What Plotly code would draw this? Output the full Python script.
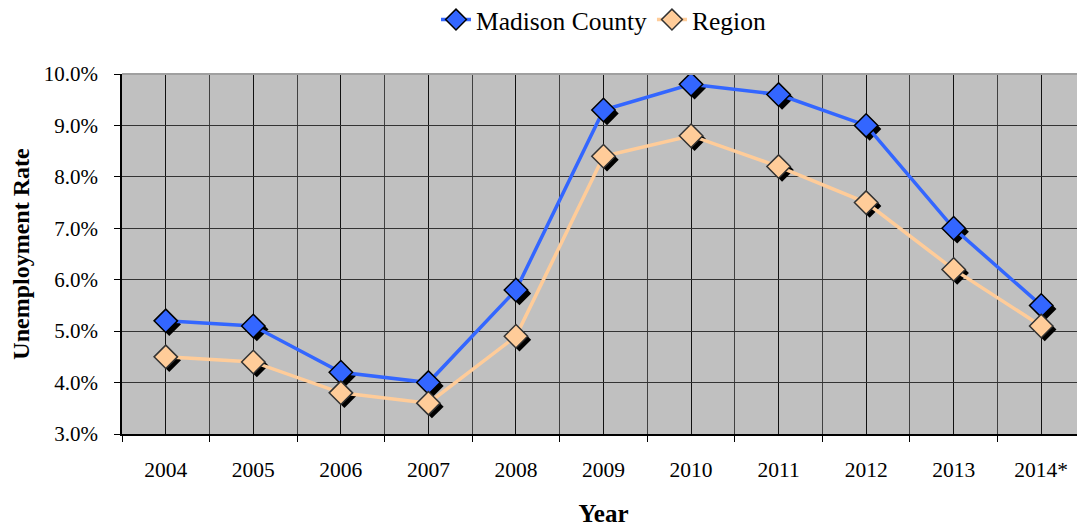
import plotly.graph_objects as go

years = ['2004', '2005', '2006', '2007', '2008', '2009', '2010', '2011', '2012', '2013', '2014*']
madison = [5.2, 5.1, 4.2, 4.0, 5.8, 9.3, 9.8, 9.6, 9.0, 7.0, 5.5]
region = [4.5, 4.4, 3.8, 3.6, 4.9, 8.4, 8.8, 8.2, 7.5, 6.2, 5.1]

xpos = list(range(len(years)))
serif = 'Times New Roman, Liberation Serif, DejaVu Serif, serif'

# plot area in pixels: 963 wide, 360 tall -> shadow offset of ~3.5px
dx = 3.5 / 87.5
dy = 3.5 / (360 / 7)

fig = go.Figure()

# invisible trace so the base axes (grid, ticks, labels) get drawn
fig.add_trace(go.Scatter(x=xpos, y=madison, mode='lines', line=dict(width=0),
                         showlegend=False, hoverinfo='skip'))

# marker shadows on a slightly shifted hidden axis pair
for vals in (madison, region):
    fig.add_trace(go.Scatter(
        x=xpos, y=vals, mode='markers', xaxis='x2', yaxis='y2',
        marker=dict(symbol='diamond', size=18, color='black'),
        showlegend=False, hoverinfo='skip'
    ))

fig.add_trace(go.Scatter(
    x=xpos, y=madison, mode='lines+markers', name='Madison County',
    xaxis='x3', yaxis='y3',
    line=dict(color='#3366FF', width=3.5),
    marker=dict(symbol='diamond', size=18, color='#3366FF',
                line=dict(color='black', width=1.5))
))
fig.add_trace(go.Scatter(
    x=xpos, y=region, mode='lines+markers', name='Region',
    xaxis='x3', yaxis='y3',
    line=dict(color='#FFCC99', width=3.5),
    marker=dict(symbol='diamond', size=18, color='#FFCC99',
                line=dict(color='#333333', width=1.5))
))

xr = [-0.5, 10.5]
yr = [3, 10]

# page body has an 8px margin, so the figure is shrunk to land on the same pixels
fig.update_layout(
    width=1077, height=519,
    margin=dict(l=114, r=0, t=66, b=93, autoexpand=False),
    paper_bgcolor='white',
    plot_bgcolor='#C0C0C0',
    font=dict(family=serif, color='black', size=21),
    showlegend=True,
    legend=dict(orientation='h', x=0.5, xanchor='center', y=1.15, yanchor='middle',
                font=dict(family=serif, size=25.5), bgcolor='rgba(0,0,0,0)'),
    xaxis=dict(
        range=xr, tickvals=xpos, ticktext=years, ticks='',
        showgrid=True, gridcolor='#111111', gridwidth=1,
        showline=True, linecolor='black', linewidth=2,
        ticklabelstandoff=15, tickfont=dict(family=serif, size=21.5),
        zeroline=False,
        minor=dict(tickvals=[i - 0.5 for i in range(len(years) + 1)],
                   ticks='outside', ticklen=6, tickcolor='black',
                   showgrid=True, gridcolor='#404040', gridwidth=1),
        title=dict(text='<b>Year</b>', font=dict(family=serif, size=25), standoff=35),
    ),
    yaxis=dict(
        range=yr, dtick=1, tickformat='.1f', ticksuffix='%',
        ticks='outside', ticklen=6, tickcolor='black',
        showgrid=True, gridcolor='#333333', gridwidth=1,
        showline=True, linecolor='black', linewidth=1.5,
        zeroline=False, ticklabelstandoff=12,
        tickfont=dict(family=serif, size=21),
        title=dict(text='<b>Unemployment Rate</b>', font=dict(family=serif, size=24), standoff=8),
    ),
    xaxis2=dict(overlaying='x', range=[xr[0] - dx, xr[1] - dx], visible=False),
    yaxis2=dict(overlaying='y', range=[yr[0] + dy, yr[1] + dy], visible=False),
    xaxis3=dict(overlaying='x', range=xr, visible=False),
    yaxis3=dict(overlaying='y', range=yr, visible=False),
    shapes=[dict(type='line', xref='paper', yref='paper', x0=0, x1=1, y0=1, y1=1,
                 line=dict(color='#A0A0A0', width=2))],
)

fig.write_html('out.html')
